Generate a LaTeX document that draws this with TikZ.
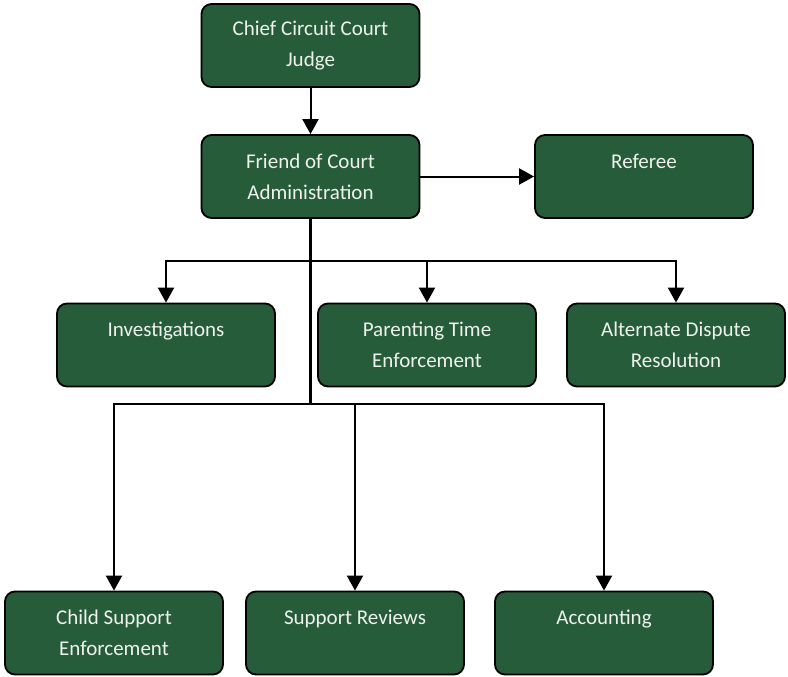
\documentclass[tikz,border=0pt]{standalone}
\usepackage{fontspec}
\setmainfont{Carlito}
\usepackage{xcolor}
\usetikzlibrary{arrows.meta,positioning,calc}

\definecolor{marble}{RGB}{38,92,58}
\definecolor{boxtext}{RGB}{238,242,236}

\begin{document}
\begin{tikzpicture}[x=1pt, y=-1pt,
    orgbox/.style={draw=black, line width=1.8pt, rounded corners=10pt, fill=marble,
      minimum width=218pt, minimum height=83pt, align=center, text=boxtext,
      font=\fontsize{21}{31}\selectfont},
    link/.style={line width=2pt, -{Triangle[width=16pt,length=15pt]}}]
		\useasboundingbox (0,0) rectangle (788,677);

		\node[orgbox] (chief) at (310.5,45.5) {Chief Circuit Court\\Judge};
		\node[orgbox] (foc) at (310.5,176.5) {Friend of Court\\Administration};
		\node[orgbox] (referee) at (644,176.5) {Referee\\\mbox{}};

		\node[orgbox] (inv) at (166,345) {Investigations\\\mbox{}};
		\node[orgbox] (ptime) at (427,345) {Parenting Time\\Enforcement};
		\node[orgbox] (adr) at (676,345) {Alternate Dispute\\Resolution};

		\node[orgbox] (cse) at (114,633) {Child Support\\Enforcement};
		\node[orgbox] (reviews) at (355,633) {Support Reviews\\\mbox{}};
		\node[orgbox] (acct) at (604,633) {Accounting\\\mbox{}};

		\coordinate (split1) at (310.5,261);
		\coordinate (split2) at (310.5,404);

		\draw[link] (chief) -- (foc);
		\draw[link] (foc) -- (referee);
		\draw[line width=3pt] (foc.south) -- (split2);

		\draw[line width=2pt] (inv.north |- split1) -- (adr.north |- split1);
		\draw[link] (split1) -| (inv.north);
		\draw[link] (split1) -| (ptime.north);
		\draw[link] (split1) -| (adr.north);

		\draw[line width=2pt] (cse.north |- split2) -- (acct.north |- split2);
		\draw[link] (split2) -| (cse.north);
		\draw[link] (split2) -| (reviews.north);
		\draw[link] (split2) -| (acct.north);
	\end{tikzpicture}
\end{document}
